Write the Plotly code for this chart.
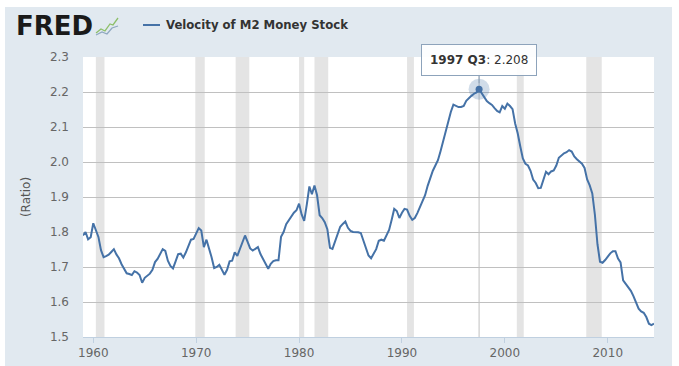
import pandas as pd
import plotly.graph_objects as go

# ---- data (quarterly, 1959 Q1 .. 2014 Q3) ----
series_name = "Velocity of M2 Money Stock"
start_quarter = "1959-01-01"
velocity = [
    1.790, 1.800, 1.779, 1.785,  # 1959
    1.825, 1.805, 1.786, 1.748,  # 1960
    1.728, 1.731, 1.735, 1.743,  # 1961
    1.751, 1.736, 1.725, 1.708,  # 1962
    1.695, 1.682, 1.680, 1.677,  # 1963
    1.688, 1.684, 1.677, 1.655,  # 1964
    1.669, 1.675, 1.681, 1.692,  # 1965
    1.714, 1.723, 1.738, 1.751,  # 1966
    1.746, 1.718, 1.703, 1.696,  # 1967
    1.716, 1.737, 1.738, 1.727,  # 1968
    1.742, 1.760, 1.778, 1.780,  # 1969
    1.795, 1.811, 1.804, 1.757,  # 1970
    1.778, 1.755, 1.728, 1.697,  # 1971
    1.700, 1.706, 1.690, 1.678,  # 1972
    1.692, 1.716, 1.718, 1.742,  # 1973
    1.732, 1.752, 1.772, 1.790,  # 1974
    1.772, 1.753, 1.747, 1.752,  # 1975
    1.757, 1.737, 1.723, 1.705,  # 1976
    1.695, 1.709, 1.717, 1.719,  # 1977
    1.719, 1.786, 1.800, 1.822,  # 1978
    1.834, 1.843, 1.855, 1.862,  # 1979
    1.881, 1.850, 1.832, 1.878,  # 1980
    1.930, 1.908, 1.933, 1.905,  # 1981
    1.848, 1.840, 1.828, 1.808,  # 1982
    1.755, 1.752, 1.772, 1.797,  # 1983
    1.815, 1.823, 1.830, 1.812,  # 1984
    1.803, 1.800, 1.800, 1.799,  # 1985
    1.797, 1.775, 1.756, 1.733,  # 1986
    1.725, 1.738, 1.751, 1.775,  # 1987
    1.778, 1.775, 1.790, 1.806,  # 1988
    1.835, 1.866, 1.860, 1.840,  # 1989
    1.855, 1.866, 1.864, 1.846,  # 1990
    1.835, 1.840, 1.854, 1.872,  # 1991
    1.887, 1.905, 1.932, 1.955,  # 1992
    1.975, 1.990, 2.005, 2.031,  # 1993
    2.060, 2.090, 2.116, 2.143,  # 1994
    2.164, 2.160, 2.157, 2.157,  # 1995
    2.160, 2.175, 2.183, 2.189,  # 1996
    2.195, 2.199, 2.208, 2.196,  # 1997
    2.183, 2.174, 2.168, 2.163,  # 1998
    2.154, 2.146, 2.142, 2.160,  # 1999
    2.152, 2.167, 2.160, 2.151,  # 2000
    2.110, 2.082, 2.045, 2.010,  # 2001
    1.995, 1.990, 1.975, 1.950,  # 2002
    1.940, 1.925, 1.926, 1.953,  # 2003
    1.972, 1.965, 1.973, 1.976,  # 2004
    1.990, 2.012, 2.020, 2.025,  # 2005
    2.028, 2.034, 2.030, 2.016,  # 2006
    2.008, 2.002, 1.995, 1.983,  # 2007
    1.950, 1.933, 1.910, 1.850,  # 2008
    1.765, 1.715, 1.712, 1.720,  # 2009
    1.731, 1.739, 1.745, 1.745,  # 2010
    1.724, 1.713, 1.662, 1.651,  # 2011
    1.642, 1.632, 1.617, 1.596,  # 2012
    1.581, 1.573, 1.569, 1.557,  # 2013
    1.538, 1.534, 1.538,         # 2014
]

recession_starts = ["1960-04-01", "1969-12-01", "1973-11-01", "1980-01-01",
                    "1981-07-01", "1990-07-01", "2001-03-01", "2007-12-01"]
recession_ends = ["1961-02-01", "1970-11-01", "1975-03-01", "1980-07-01",
                  "1982-11-01", "1991-03-01", "2001-11-01", "2009-06-01"]

y_ticks = [1.5, 1.6, 1.7, 1.8, 1.9, 2.0, 2.1, 2.2, 2.3]
y_title = "(Ratio)"

# ---- derived ----
dates = pd.date_range(start_quarter, periods=len(velocity), freq="QS")
peak_i = max(range(len(velocity)), key=lambda i: velocity[i])
peak_date = dates[peak_i]
peak_val = velocity[peak_i]
peak_label = f"<b>{peak_date.year} Q{(peak_date.month - 1) // 3 + 1}</b>: {peak_val:.3f}"

W, H = 679, 366
L, R, T, B = 83, 25, 57, 29
PW, PH = W - L - R, H - T - B


def px_x(px):
    return (px - L) / PW


def px_y(py):
    return (H - B - py) / PH


LINE = "#4572A7"
FONT = "DejaVu Sans"

fig = go.Figure()
fig.add_trace(go.Scatter(x=dates, y=velocity, mode="lines",
                         line=dict(color=LINE, width=2), hoverinfo="skip",
                         showlegend=False))
fig.add_trace(go.Scatter(x=[peak_date], y=[peak_val], mode="markers",
                         marker=dict(size=21, color="rgba(69,114,167,0.25)"),
                         hoverinfo="skip", showlegend=False))
fig.add_trace(go.Scatter(x=[peak_date], y=[peak_val], mode="markers",
                         marker=dict(size=7, color=LINE),
                         hoverinfo="skip", showlegend=False))

shapes = []
for s, e in zip(recession_starts, recession_ends):
    shapes.append(dict(type="rect", xref="x", yref="paper", x0=s, x1=e, y0=0, y1=1,
                       fillcolor="#E4E4E4", line=dict(width=0), layer="below"))
# crosshair
shapes.append(dict(type="line", xref="x", yref="paper", x0=peak_date, x1=peak_date,
                   y0=0, y1=1, line=dict(color="#C0C0C0", width=1), layer="between"))
# white page borders
shapes.append(dict(type="rect", xref="paper", yref="paper", x0=px_x(0), x1=px_x(W),
                   y0=px_y(7), y1=px_y(0), fillcolor="white", line=dict(width=0), layer="above"))
shapes.append(dict(type="rect", xref="paper", yref="paper", x0=px_x(0), x1=px_x(5),
                   y0=px_y(H), y1=px_y(0), fillcolor="white", line=dict(width=0), layer="above"))
shapes.append(dict(type="rect", xref="paper", yref="paper", x0=px_x(672), x1=px_x(W),
                   y0=px_y(H), y1=px_y(0), fillcolor="white", line=dict(width=0), layer="above"))
# legend symbol
shapes.append(dict(type="line", xref="paper", yref="paper", x0=px_x(143), x1=px_x(160),
                   y0=px_y(25), y1=px_y(25), line=dict(color=LINE, width=2)))
# small logo icon
icon_green = [(96, 33), (101, 29), (105, 31), (110, 24), (113, 25), (118, 18)]
icon_blue = [(96, 35), (102, 32), (107, 34), (112, 28), (118, 26)]
for pts, col in ((icon_green, "#8DBF6A"), (icon_blue, "#8FA8C0")):
    path = "M " + " L ".join(f"{px_x(a):.4f},{px_y(b):.4f}" for a, b in pts)
    shapes.append(dict(type="path", xref="paper", yref="paper", path=path,
                       line=dict(color=col, width=1.3)))

annotations = [
    dict(xref="paper", yref="paper", x=px_x(14), y=px_y(26), xanchor="left", yanchor="middle",
         text="<b>FRED</b>", showarrow=False,
         font=dict(family=FONT, size=26, color="#1A1A1A")),
    dict(xref="paper", yref="paper", x=px_x(164), y=px_y(25), xanchor="left", yanchor="middle",
         text=f"<b>{series_name}</b>", showarrow=False,
         font=dict(family=FONT, size=11.7, color="#333333")),
    dict(x=peak_date, y=peak_val, xref="x", yref="y", text=peak_label,
         showarrow=True, arrowhead=0, arrowwidth=1, arrowcolor="#8DA3BB",
         ax=0, ay=-29, standoff=6,
         bgcolor="rgba(255,255,255,0.9)", bordercolor="#8DA3BB", borderwidth=1, borderpad=8,
         font=dict(family=FONT, size=12, color="#333333")),
]

fig.update_layout(
    width=W, height=H,
    margin=dict(l=L, r=R, t=T, b=B, pad=0, autoexpand=False),
    paper_bgcolor="#E1E9F0", plot_bgcolor="white",
    font=dict(family=FONT, size=12, color="#666666"),
    shapes=shapes, annotations=annotations, showlegend=False,
    xaxis=dict(type="date", range=[dates[0], dates[-1]], showgrid=False,
               ticks="outside", ticklen=5, tickcolor="#C0D0E0",
               showline=True, linecolor="#C0D0E0", linewidth=1,
               tick0="1960-01-01", dtick="M120", tickformat="%Y",
               tickfont=dict(size=12, color="#666666"), zeroline=False,
               automargin=False, fixedrange=True),
    yaxis=dict(range=[y_ticks[0], y_ticks[-1]], tickvals=y_ticks,
               ticktext=[f"{v:.1f}" for v in y_ticks],
               showgrid=True, gridcolor="#C0C0C0", gridwidth=1, zeroline=False,
               showline=False, ticks="", ticklabelstandoff=13,
               tickfont=dict(size=12, color="#666666"),
               title=dict(text=y_title, standoff=16, font=dict(size=12, color="#555555")),
               automargin=False, fixedrange=True),
)

fig.write_html(
    "out.html",
    config={"responsive": False, "displayModeBar": False},
    post_script="document.body.style.margin='0';document.documentElement.style.overflow='hidden';",
)
